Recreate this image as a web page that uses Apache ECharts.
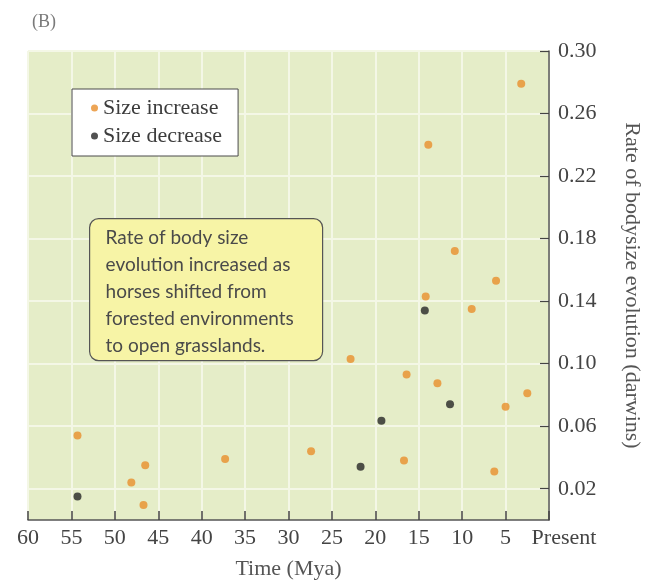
<!DOCTYPE html>
<html>
<head>
<meta charset="utf-8">
<script src="https://cdn.jsdelivr.net/npm/echarts@6/dist/echarts.min.js"></script>
<style>html,body{margin:0;padding:0;background:#fff}#c{width:646px;height:582px}</style>
</head>
<body>
<div id="c"></div>
<script>
// Data (time in Mya, rate in darwins)
const increaseTime = [54.3, 48.1, 46.5, 46.7, 37.3, 27.4, 22.85, 16.4, 16.7, 14.2, 13.9, 12.85, 10.85, 8.9, 6.1, 6.3, 5.0, 3.2, 2.5];
const increaseRate = [0.054, 0.024, 0.035, 0.0096, 0.039, 0.044, 0.103, 0.093, 0.038, 0.143, 0.240, 0.0875, 0.172, 0.135, 0.153, 0.031, 0.0725, 0.279, 0.081];
const decreaseTime = [54.3, 21.7, 19.3, 14.3, 11.4];
const decreaseRate = [0.015, 0.034, 0.0635, 0.134, 0.074];
const yTickValues = [0.02, 0.06, 0.10, 0.14, 0.18, 0.22, 0.26, 0.30];
const seriesNames = ['Size increase', 'Size decrease'];
const noteLines = ['Rate of body size', 'evolution increased as', 'horses shifted from', 'forested environments', 'to open grasslands.'];

const serif = '"Liberation Serif", "DejaVu Serif", serif';
const chart = echarts.init(document.getElementById('c'), null, {renderer: 'canvas'});
const zip = (a, b) => a.map((v, i) => [v, b[i]]);

chart.setOption({
  animation: false,
  backgroundColor: '#ffffff',
  title: {
    text: '(B)', left: 27, top: 8,
    textStyle: {fontFamily: serif, fontSize: 18, fontWeight: 'normal', color: '#7a7a7a'}
  },
  legend: {
    orient: 'vertical', left: 72, top: 89,
    data: seriesNames,
    icon: 'circle', itemWidth: 7, itemHeight: 7, itemGap: 6, itemTextGap: 6,
    backgroundColor: '#ffffff', borderColor: '#4a4a4a', borderWidth: 1,
    padding: [8, 16, 9, 19],
    textStyle: {fontFamily: serif, fontSize: 22, color: '#3c3c3c', lineHeight: 22}
  },
  grid: {
    left: 28, right: 97, top: 51, bottom: 62,
    containLabel: false, outerBoundsMode: 'none',
    show: true, backgroundColor: '#e5edc8', borderWidth: 0
  },
  xAxis: {
    type: 'value', min: 0, max: 60, interval: 5, inverse: true,
    name: 'Time (Mya)', nameLocation: 'middle', nameGap: 38,
    nameTextStyle: {fontFamily: serif, fontSize: 22, color: '#555'},
    axisLine: {show: true, lineStyle: {color: '#555', width: 1.5}},
    axisTick: {show: true, inside: true, length: 9, lineStyle: {color: '#444', width: 1.5}},
    axisLabel: {
      margin: 7, fontFamily: serif, fontSize: 22, color: '#444',
      formatter: v => v === 0 ? '{p|Present}' : String(v),
      rich: {p: {fontFamily: serif, fontSize: 22, color: '#444', padding: [0, 0, 0, 30]}}
    },
    splitLine: {show: true, lineStyle: {color: '#f4f7e6', width: 2}}
  },
  yAxis: {
    type: 'value', position: 'right', min: 0, max: 0.30,
    name: 'Rate of bodysize evolution (darwins)', nameLocation: 'middle', nameRotate: -90, nameGap: 72,
    nameTextStyle: {fontFamily: serif, fontSize: 22, color: '#555'},
    axisLine: {show: true, lineStyle: {color: '#555', width: 1.5}},
    axisTick: {show: true, inside: true, length: 9, customValues: yTickValues, lineStyle: {color: '#444', width: 1.2}},
    axisLabel: {
      margin: 9, fontFamily: serif, fontSize: 22, color: '#444',
      customValues: yTickValues,
      formatter: v => v.toFixed(2)
    },
    splitLine: {show: true, lineStyle: {color: '#f4f7e6', width: 2}}
  },
  graphic: [{
    type: 'group', left: 89, top: 218, z: 100,
    children: [{
      type: 'rect', z: 100, shape: {x: 0, y: 0, width: 233, height: 142, r: 9},
      style: {fill: '#f7f4a6', stroke: '#555', lineWidth: 1.2}
    }, {
      type: 'text', z: 101, x: 16, y: 6,
      style: {
        text: noteLines.join('\n'), fill: '#4a4a4a',
        font: '19px Lato, "Open Sans", sans-serif', lineHeight: 27,
        textAlign: 'left', textVerticalAlign: 'top'
      }
    }]
  }],
  series: [{
    name: seriesNames[0], type: 'scatter', symbol: 'circle', symbolSize: 8,
    itemStyle: {color: '#e88f2c'},
    data: zip(increaseTime, increaseRate)
  }, {
    name: seriesNames[1], type: 'scatter', symbol: 'circle', symbolSize: 8,
    itemStyle: {color: '#262626'},
    data: zip(decreaseTime, decreaseRate)
  }]
});
</script>
</body>
</html>
